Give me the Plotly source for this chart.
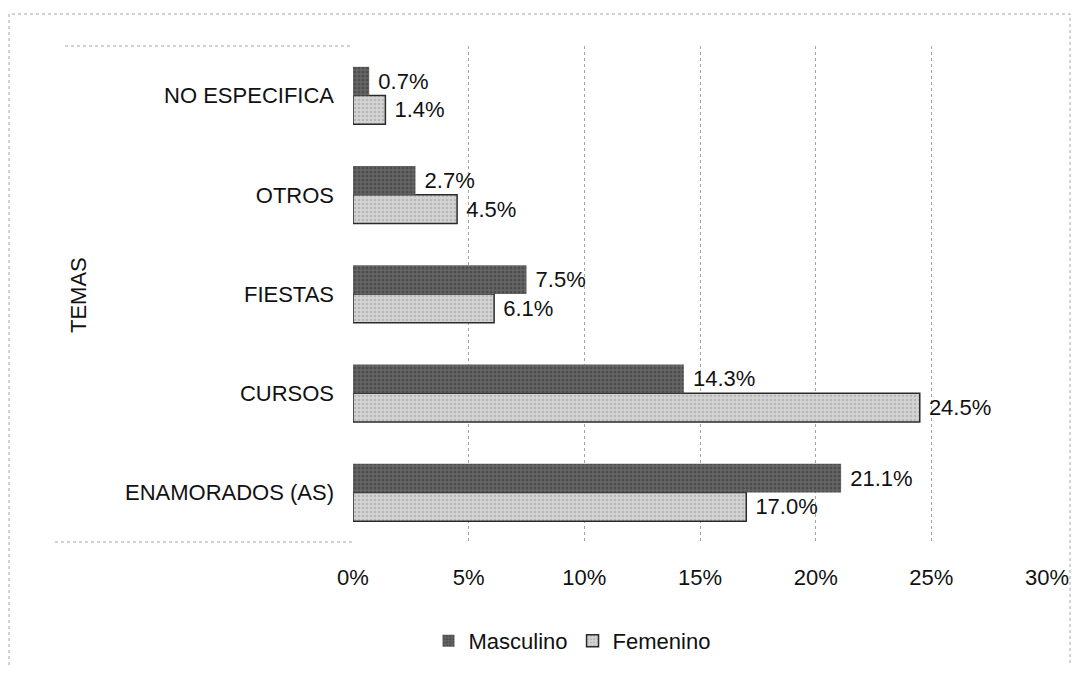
import plotly.graph_objects as go

# categories bottom -> top (plotly draws the first category at the bottom)
TEMAS = ["ENAMORADOS (AS)", "CURSOS", "FIESTAS", "OTROS", "NO ESPECIFICA"]
MASCULINO = [21.1, 14.3, 7.5, 2.7, 0.7]
FEMENINO = [17.0, 24.5, 6.1, 4.5, 1.4]
X_TICKS = [0, 5, 10, 15, 20, 25, 30]
X_TICK_LABELS = ["0%", "5%", "10%", "15%", "20%", "25%", "30%"]

FONT = "Liberation Sans, Arial, sans-serif"
FS = 22
# the page body has an 8px margin, so the figure sits 8px in from the window edge
OFF = 8
W, H = 1063, 657
L, R, T, B = 345, 24, 38, 123
PW, PH = W - L - R, H - T - B


def px_x(x):
    # window pixel -> paper coordinate
    return (x - OFF - L) / PW


def px_y(y):
    return (H - B - (y - OFF)) / PH


fig = go.Figure()
fig.add_trace(
    go.Bar(
        y=TEMAS,
        x=FEMENINO,
        name="Femenino",
        orientation="h",
        legendrank=2,
        marker=dict(
            color="#d4d4d4",
            line=dict(color="#2a2a2a", width=1.5),
            pattern=dict(shape=".", fgcolor="#9a9a9a", size=4, solidity=0.35),
        ),
        texttemplate=" %{x:.1f}%",
        textposition="outside",
        textfont=dict(size=FS, color="#111111", family=FONT),
        cliponaxis=False,
    )
)
fig.add_trace(
    go.Bar(
        y=TEMAS,
        x=MASCULINO,
        name="Masculino",
        orientation="h",
        legendrank=1,
        marker=dict(
            color="#666666",
            line=dict(width=0),
            pattern=dict(shape=".", fgcolor="#333333", size=4, solidity=0.45),
        ),
        texttemplate=" %{x:.1f}%",
        textposition="outside",
        textfont=dict(size=FS, color="#111111", family=FONT),
        cliponaxis=False,
    )
)

fig.update_layout(
    width=W,
    height=H,
    margin=dict(l=L, r=R, t=T, b=B, autoexpand=False),
    barmode="group",
    bargap=0.42,
    bargroupgap=0,
    paper_bgcolor="white",
    plot_bgcolor="white",
    font=dict(family=FONT, size=FS, color="#111111"),
    legend=dict(
        orientation="h",
        x=px_x(572),
        xanchor="center",
        y=px_y(641),
        yanchor="middle",
        font=dict(size=FS),
        itemwidth=30,
        traceorder="normal",
    ),
)
fig.update_xaxes(
    range=[0, 30],
    tickvals=X_TICKS,
    ticktext=X_TICK_LABELS,
    showgrid=True,
    gridcolor="#a6a6a6",
    griddash="dot",
    gridwidth=1,
    zeroline=False,
    showline=False,
    ticks="",
    ticklabelstandoff=20,
)
fig.update_yaxes(
    showgrid=False,
    zeroline=False,
    showline=False,
    ticks="",
    ticklabelstandoff=18,
)

line_style = dict(color="#a6a6a6", width=1, dash="dot")
# top and bottom borders of the category area
fig.add_shape(type="line", xref="paper", yref="paper", x0=px_x(65), x1=0, y0=1, y1=1, line=line_style)
fig.add_shape(type="line", xref="paper", yref="paper", x0=px_x(55), x1=0, y0=0, y1=0, line=line_style)
# outer chart border
fig.add_shape(
    type="rect", xref="paper", yref="paper",
    x0=px_x(9), x1=px_x(1070), y0=px_y(700), y1=px_y(14),
    line=dict(color="#a6a6a6", width=1, dash="dot"),
)

fig.add_annotation(
    text="TEMAS", xref="paper", yref="paper",
    x=px_x(78), xanchor="center", y=px_y(295), yanchor="middle", textangle=-90,
    showarrow=False, font=dict(size=FS, color="#111111"),
)

fig.write_html("out.html")
